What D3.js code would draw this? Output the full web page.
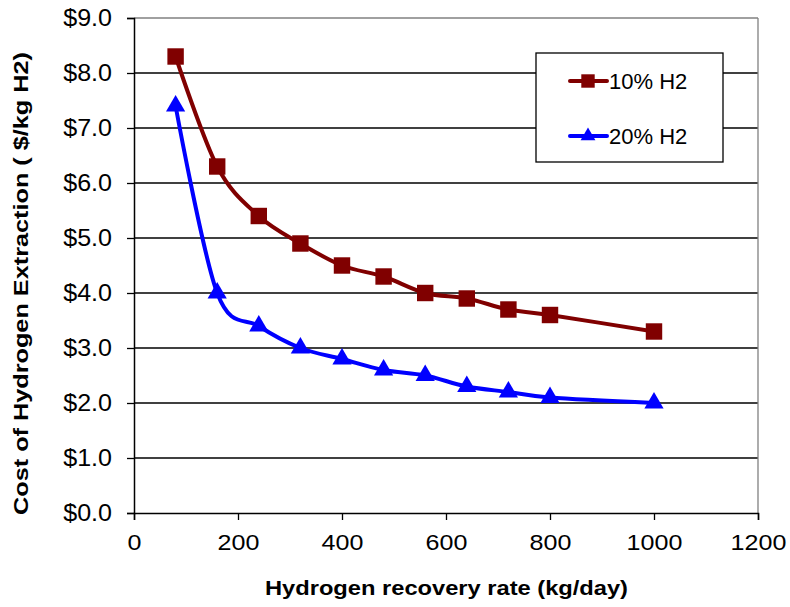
<!DOCTYPE html>
<html><head><meta charset="utf-8">
<script src="https://cdn.jsdelivr.net/npm/d3@7"></script>
<style>body{margin:0;background:#fff}svg{display:block}text{font-family:"Liberation Sans",Arial,sans-serif}</style>
</head><body><svg id="c" width="790" height="607"></svg>
<script>
const xValues = [80,160,240,320,400,480,560,640,720,800,1000];
const series10 = [8.3,6.3,5.4,4.9,4.5,4.3,4.0,3.9,3.7,3.6,3.3];
const series20 = [7.4,4.0,3.4,3.0,2.8,2.6,2.5,2.3,2.2,2.1,2.0];
const seriesNames = ["10% H2","20% H2"];
const xTicks = [0,200,400,600,800,1000,1200];
const yTicks = [0,1,2,3,4,5,6,7,8,9];

const svg = d3.select("#c");
const L=134,R=758,T=18,B=513;
const x = d3.scaleLinear().domain([0,1200]).range([L,R]);
const y = d3.scaleLinear().domain([0,9]).range([B,T]);

function stretch(sel, f){
  sel.each(function(){
    const w=this.getComputedTextLength();
    d3.select(this).attr("textLength",w*f).attr("lengthAdjust","spacingAndGlyphs");
  });
}

// gridlines
svg.append("g").selectAll("line").data(yTicks.filter(d=>d>0)).join("line")
  .attr("x1",L).attr("x2",R).attr("y1",d=>y(d)).attr("y2",d=>y(d))
  .attr("stroke",d=>d===9?"#808080":"#000").attr("stroke-width",1.3);
svg.append("line").attr("x1",R).attr("x2",R).attr("y1",T).attr("y2",B).attr("stroke","#808080").attr("stroke-width",1.3);

// axes
const yAxis = svg.append("g").attr("transform",`translate(${L},0)`)
  .call(d3.axisLeft(y).tickValues(yTicks).tickSize(7).tickPadding(15).tickFormat(d=>"$"+d3.format(".1f")(d)));
const xAxis = svg.append("g").attr("transform",`translate(0,${B})`)
  .call(d3.axisBottom(x).tickValues(xTicks).tickSize(7).tickPadding(14).tickFormat(d3.format("d")));
[yAxis,xAxis].forEach(a=>{
  a.select(".domain").attr("stroke","#000").attr("stroke-width",1.5);
  a.selectAll(".tick line").attr("stroke","#000").attr("stroke-width",1.3);
  a.selectAll("text").attr("fill","#000").style("font-family","'Liberation Sans',Arial,sans-serif");
});
yAxis.selectAll("text").attr("font-size",23);
xAxis.selectAll("text").attr("font-size",22);
stretch(yAxis.selectAll("text"),1.09);
stretch(xAxis.selectAll("text"),1.14);

const line = d3.line().x(d=>x(d[0])).y(d=>y(d[1])).curve(d3.curveCatmullRom.alpha(0));
const d10 = xValues.map((v,i)=>[v,series10[i]]);
const d20 = xValues.map((v,i)=>[v,series20[i]]);
const c10="#800000", c20="#0000ff";
svg.append("path").attr("d",line(d10)).attr("fill","none").attr("stroke",c10).attr("stroke-width",4);
svg.append("path").attr("d",line(d20)).attr("fill","none").attr("stroke",c20).attr("stroke-width",4);
const sq=d3.symbol().type(d3.symbolSquare).size(270);
const tri=d3.symbol().type(d3.symbolTriangle).size(160);
svg.append("g").selectAll("path").data(d10).join("path").attr("d",sq)
  .attr("transform",d=>`translate(${x(d[0])},${y(d[1])})`).attr("fill",c10);
svg.append("g").selectAll("path").data(d20).join("path").attr("d",tri)
  .attr("transform",d=>`translate(${x(d[0])},${y(d[1])})`).attr("fill",c20);

// legend
const lg = svg.append("g");
lg.append("rect").attr("x",536).attr("y",53).attr("width",187).attr("height",109).attr("fill","#fff").attr("stroke","#000").attr("stroke-width",1.3);
const sqL=d3.symbol().type(d3.symbolSquare).size(180);
const triL=d3.symbol().type(d3.symbolTriangle).size(95);
const items=[{n:seriesNames[0],c:c10,s:sqL,yy:81},{n:seriesNames[1],c:c20,s:triL,yy:136}];
items.forEach(it=>{
  lg.append("line").attr("x1",570).attr("x2",607).attr("y1",it.yy).attr("y2",it.yy).attr("stroke",it.c).attr("stroke-width",4).attr("stroke-linecap","round");
  lg.append("path").attr("d",it.s).attr("transform",`translate(588,${it.yy})`).attr("fill",it.c);
  lg.append("text").attr("x",609).attr("y",it.yy).attr("dy","0.35em").attr("font-size",22).text(it.n);
});

// axis titles
svg.append("text").attr("x",446.5).attr("y",595).attr("text-anchor","middle").attr("font-size",20).attr("font-weight","bold")
  .attr("textLength",363).attr("lengthAdjust","spacingAndGlyphs").text("Hydrogen recovery rate (kg/day)");
svg.append("text").attr("transform","translate(28,283.5) rotate(-90)").attr("text-anchor","middle").attr("font-size",20).attr("font-weight","bold")
  .attr("textLength",463).attr("lengthAdjust","spacingAndGlyphs").text("Cost of Hydrogen Extraction ( $/kg H2)");
</script></body></html>
